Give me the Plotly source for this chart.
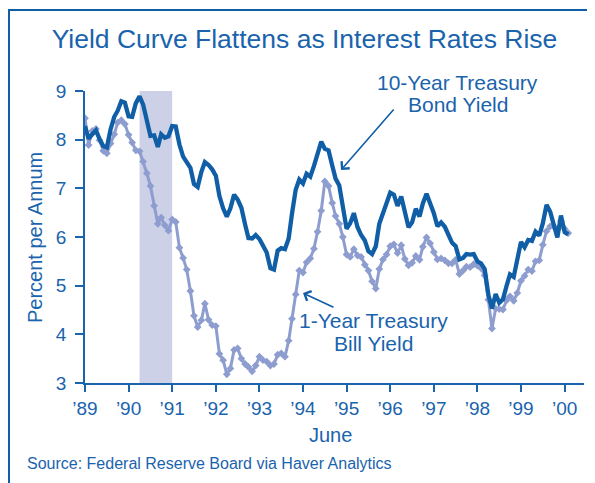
import pandas as pd
import plotly.graph_objects as go

# ---- data (monthly, June 1989 - July 2000) ----
start_month = "1989-06-01"
n_months = 134
months = pd.date_range(start_month, periods=n_months, freq="MS")

ten_year = [
    8.28, 8.02, 8.11, 8.19, 8.01, 7.87, 7.84,
    8.21, 8.47, 8.59, 8.79, 8.76, 8.48, 8.47, 8.75, 8.89, 8.72, 8.39, 8.08,
    8.09, 7.85, 8.11, 8.04, 8.07, 8.28, 8.27, 7.90, 7.65, 7.53, 7.42, 7.09,
    7.03, 7.34, 7.54, 7.48, 7.39, 7.26, 6.84, 6.59, 6.42, 6.59, 6.87, 6.77,
    6.60, 6.26, 5.98, 5.97, 6.04, 5.96, 5.81, 5.68, 5.36, 5.33, 5.72, 5.77,
    5.75, 5.97, 6.48, 6.97, 7.18, 7.10, 7.30, 7.24, 7.46, 7.74, 7.96, 7.81,
    7.78, 7.47, 7.20, 7.06, 6.63, 6.17, 6.28, 6.49, 6.20, 6.04, 5.93, 5.71,
    5.65, 5.81, 6.27, 6.51, 6.74, 6.91, 6.87, 6.64, 6.83, 6.53, 6.20, 6.30,
    6.58, 6.42, 6.69, 6.89, 6.71, 6.49, 6.22, 6.30, 6.21, 6.03, 5.88, 5.81,
    5.54, 5.57, 5.65, 5.64, 5.65, 5.50, 5.46, 5.34, 4.81, 4.53, 4.83, 4.65,
    4.72, 5.00, 5.23, 5.18, 5.54, 5.90, 5.79, 5.94, 5.92, 6.11, 6.03, 6.28,
    6.66, 6.52, 6.26, 5.99, 6.44, 6.10, 6.05,
]

one_year = [
    8.44, 7.89, 8.18, 8.22, 7.99, 7.77, 7.72,
    7.92, 8.11, 8.35, 8.40, 8.32, 8.10, 7.94, 7.78, 7.76, 7.55, 7.31, 7.05,
    6.64, 6.27, 6.40, 6.24, 6.13, 6.36, 6.31, 5.78, 5.57, 5.33, 4.89, 4.38,
    4.15, 4.29, 4.63, 4.30, 4.19, 4.17, 3.60, 3.47, 3.18, 3.30, 3.68, 3.71,
    3.50, 3.39, 3.33, 3.24, 3.36, 3.54, 3.47, 3.44, 3.36, 3.39, 3.58, 3.61,
    3.54, 3.87, 4.32, 4.82, 5.31, 5.27, 5.48, 5.56, 5.76, 6.11, 6.54, 7.14,
    7.05, 6.70, 6.43, 6.27, 6.00, 5.64, 5.59, 5.75, 5.62, 5.59, 5.43, 5.31,
    5.09, 4.94, 5.34, 5.54, 5.64, 5.81, 5.85, 5.67, 5.83, 5.55, 5.42, 5.47,
    5.61, 5.53, 5.80, 5.99, 5.87, 5.69, 5.54, 5.56, 5.52, 5.46, 5.46, 5.53,
    5.24, 5.31, 5.39, 5.38, 5.44, 5.41, 5.36, 5.21, 4.71, 4.12, 4.53, 4.52,
    4.51, 4.70, 4.78, 4.69, 4.85, 5.10, 5.20, 5.33, 5.30, 5.50, 5.52, 5.84,
    6.12, 6.22, 6.22, 6.15, 6.33, 6.17, 6.08,
]

tick_dates = [f"{y}-06-01" for y in range(1989, 2001)]
tick_labels = ["\u201989", "\u201990", "\u201991", "\u201992", "\u201993", "\u201994",
               "\u201995", "\u201996", "\u201997", "\u201998", "\u201999", "\u201900"]
y_ticks = [3, 4, 5, 6, 7, 8, 9]

recession_start = "1990-09-01"
recession_end = "1991-06-01"

# ---- geometry (reference pixel space; page has an 8px body margin) ----
OFF = 8
W_REF, H_REF = 595, 483
W, H = W_REF - OFF, H_REF - OFF
PLOT_L, PLOT_R, PLOT_T, PLOT_B = 85, 584, 91, 383
ML, MR, MT, MB = PLOT_L - OFF, W_REF - PLOT_R, PLOT_T - OFF, H_REF - PLOT_B
PW, PH = PLOT_R - PLOT_L, PLOT_B - PLOT_T

BLUE = "#1a63ad"
DARK = "#105ea6"
LIGHT = "#8e9dcf"
SHADE = "#cdd1e7"
FONT = "Liberation Sans, Arial, sans-serif"


def px(xpix):
    return (xpix - PLOT_L) / PW


def py(ypix):
    return (PLOT_B - ypix) / PH


fig = go.Figure()

fig.add_trace(go.Scatter(
    x=months, y=one_year, mode="lines+markers",
    line=dict(color=LIGHT, width=3),
    marker=dict(symbol="diamond", size=6, color=LIGHT),
    name="1-Year Treasury Bill Yield", hoverinfo="x+y",
))
fig.add_trace(go.Scatter(
    x=months, y=ten_year, mode="lines",
    line=dict(color=DARK, width=4.3),
    name="10-Year Treasury Bond Yield", hoverinfo="x+y",
))

fig.add_vrect(x0=recession_start, x1=recession_end, fillcolor=SHADE,
              opacity=1, line_width=0, layer="below")

# frame (top and left edges visible)
fig.add_shape(type="rect", xref="paper", yref="paper",
              x0=px(9), x1=px(W_REF + 20), y0=py(H_REF + 20), y1=py(10),
              line=dict(color=DARK, width=2), fillcolor="rgba(0,0,0,0)",
              layer="above")


def label(text, cx, cy, size, **kw):
    d = dict(text=text, x=px(cx), y=py(cy), xref="paper", yref="paper",
             xanchor="center", yanchor="middle", showarrow=False,
             font=dict(size=size, color=BLUE, family=FONT))
    d.update(kw)
    return d


ann = [
    label("Percent per Annum", 35, 238, 20, textangle=-90),
    label("June", 330, 435, 20),
    label("Source: Federal Reserve Board via Haver Analytics", 25, 463, 16, xanchor="left"),
    label("10-Year Treasury", 457, 82, 21),
    label("Bond Yield", 458, 105, 21),
    label("1-Year Treasury", 373, 320, 21),
    label("Bill Yield", 373, 343, 21),
]
# arrows
ann.append(dict(text="", x=px(341), y=py(170), xref="paper", yref="paper",
                ax=54, ay=-62, showarrow=True, arrowhead=4, arrowsize=1.3,
                arrowwidth=1.6, arrowcolor=DARK))
ann.append(dict(text="", x=px(303), y=py(293), xref="paper", yref="paper",
                ax=32, ay=15, showarrow=True, arrowhead=4, arrowsize=1.3,
                arrowwidth=1.6, arrowcolor=DARK))

fig.update_layout(
    width=W, height=H,
    margin=dict(l=ML, r=MR, t=MT, b=MB),
    paper_bgcolor="white", plot_bgcolor="white",
    showlegend=False,
    font=dict(family=FONT, color=BLUE),
    title=dict(text="Yield Curve Flattens as Interest Rates Rise",
               x=(304.5 - OFF) / W, xanchor="center",
               y=1 - (39 - OFF) / H, yanchor="middle",
               font=dict(size=26.5, color=BLUE, family=FONT)),
    annotations=ann,
    xaxis=dict(
        type="date", range=["1989-06-01", "2000-11-10"],
        tickvals=tick_dates, ticktext=tick_labels,
        ticks="outside", ticklen=7, tickwidth=1.5, tickcolor=BLUE,
        showline=True, linecolor=BLUE, linewidth=1.5,
        showgrid=False, zeroline=False,
        tickfont=dict(size=19, color=BLUE, family=FONT),
    ),
    yaxis=dict(
        range=[3, 9], tickvals=y_ticks,
        ticks="outside", ticklen=8, tickwidth=1.5, tickcolor=BLUE,
        ticklabelstandoff=5,
        showline=True, linecolor=BLUE, linewidth=1.5,
        showgrid=False, zeroline=False,
        tickfont=dict(size=19, color=BLUE, family=FONT),
    ),
)

fig.write_html("out.html")
